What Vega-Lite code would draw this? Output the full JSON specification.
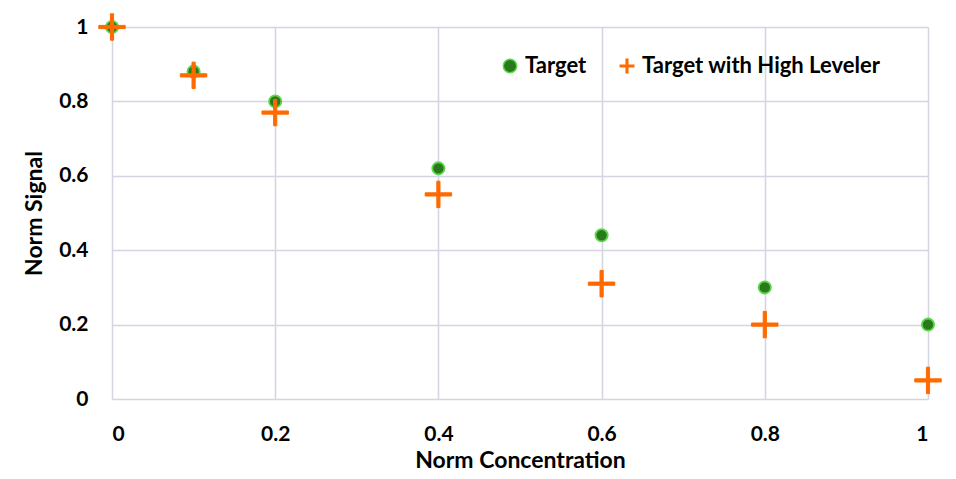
{
  "$schema": "https://vega.github.io/schema/vega-lite/v6.json",
  "width": 816,
  "height": 372,
  "autosize": {"type": "none"},
  "padding": {"left": 112, "top": 27, "right": 28, "bottom": 80},
  "background": "white",
  "config": {
    "view": {"stroke": null},
    "font": "Lato",
    "axis": {"labelFont": "Lato", "titleFont": "Lato", "labelFontWeight": "bold", "titleFontWeight": "bold", "labelColor": "#000", "titleColor": "#000", "labelFontSize": 21, "titleFontSize": 23, "gridColor": "#d4d4e2", "gridWidth": 1.5, "domain": false, "ticks": false},
    "legend": {"labelFont": "Lato", "labelFontWeight": "bold", "labelFontSize": 22, "labelColor": "#000", "labelLimit": 400, "symbolSize": 180}
  },
  "data": {"values": [
    {"x": 0, "y": 1.0, "series": "Target"},
    {"x": 0.1, "y": 0.88, "series": "Target"},
    {"x": 0.2, "y": 0.80, "series": "Target"},
    {"x": 0.4, "y": 0.62, "series": "Target"},
    {"x": 0.6, "y": 0.44, "series": "Target"},
    {"x": 0.8, "y": 0.30, "series": "Target"},
    {"x": 1.0, "y": 0.20, "series": "Target"},
    {"x": 0, "y": 1.0, "series": "Target with High Leveler"},
    {"x": 0.1, "y": 0.87, "series": "Target with High Leveler"},
    {"x": 0.2, "y": 0.77, "series": "Target with High Leveler"},
    {"x": 0.4, "y": 0.55, "series": "Target with High Leveler"},
    {"x": 0.6, "y": 0.31, "series": "Target with High Leveler"},
    {"x": 0.8, "y": 0.20, "series": "Target with High Leveler"},
    {"x": 1.0, "y": 0.05, "series": "Target with High Leveler"}
  ]},
  "encoding": {
    "x": {"field": "x", "type": "quantitative", "title": "Norm Concentration", "scale": {"domain": [0, 1], "nice": false}, "axis": {"values": [0, 0.2, 0.4, 0.6, 0.8, 1], "labelPadding": 24, "titlePadding": 5, "labelExpr": "datum.value == 0 ? '0' : datum.value == 1 ? '1' : format(datum.value, '.1f')"}},
    "y": {"field": "y", "type": "quantitative", "title": "Norm Signal", "scale": {"domain": [0, 1], "nice": false}, "axis": {"values": [0, 0.2, 0.4, 0.6, 0.8, 1], "labelPadding": 24, "titlePadding": 12, "labelExpr": "datum.value == 0 ? '0' : datum.value == 1 ? '1' : format(datum.value, '.1f')"}},
    "color": {"field": "series", "type": "nominal", "scale": {"domain": ["Target", "Target with High Leveler"], "range": ["#2a7a1c", "#ff6a00"]}, "legend": {"title": null, "orient": "none", "legendX": 387, "legendY": 28, "direction": "horizontal", "columnPadding": 29, "labelOffset": 4}},
    "stroke": {"field": "series", "type": "nominal", "scale": {"domain": ["Target", "Target with High Leveler"], "range": ["#5ad84a", "#ff6a00"]}, "legend": null},
    "shape": {"field": "series", "type": "nominal", "scale": {"domain": ["Target", "Target with High Leveler"], "range": ["circle", "M-0.12,-1H0.12V-0.12H1V0.12H0.12V1H-0.12V0.12H-1V-0.12H-0.12Z"]}}
  },
  "layer": [
    {
      "transform": [{"filter": "datum.series == 'Target'"}],
      "mark": {"type": "point", "filled": true, "opacity": 1, "strokeWidth": 1.8, "size": 150}
    },
    {
      "transform": [{"filter": "datum.series == 'Target with High Leveler'"}],
      "mark": {"type": "point", "filled": true, "opacity": 1, "strokeWidth": 1, "size": 700}
    }
  ]
}
